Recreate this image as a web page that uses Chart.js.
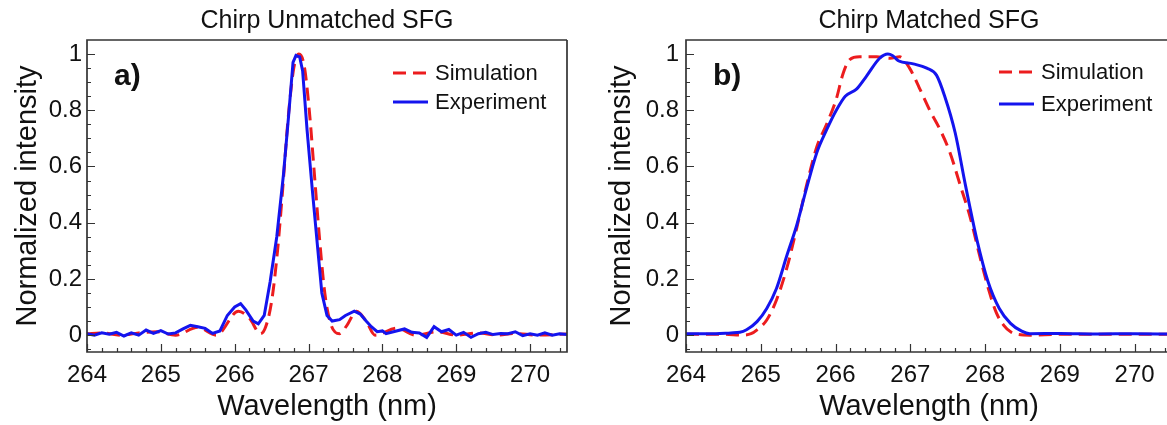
<!DOCTYPE html>
<html>
<head>
<meta charset="utf-8">
<script src="https://cdn.jsdelivr.net/npm/chart.js@4.4.1/dist/chart.umd.min.js"></script>
<style>
  html, body { margin: 0; padding: 0; background: #fff; overflow: hidden; }
  body { width: 1167px; height: 425px; position: relative; }
  canvas { position: absolute; top: 0; }
  #chartA { left: 0; }
  #chartB { left: 583px; }
</style>
</head>
<body>
<canvas id="chartA" width="583" height="425"></canvas>
<canvas id="chartB" width="600" height="425"></canvas>
<script>
const FONT = '"Liberation Sans", Arial, Helvetica, sans-serif';

// axis ticks (shared by both panels)
const xTickValues = [264, 265, 266, 267, 268, 269, 270];
const xTickLabels = ['264', '265', '266', '267', '268', '269', '270'];
const yTickValues = [0, 0.2, 0.4, 0.6, 0.8, 1];
const yTickLabels = ['0', '0.2', '0.4', '0.6', '0.8', '1'];

// a) chirp unmatched SFG
const unmatchedSimWl = [264.0, 264.2, 264.45, 264.7, 264.95, 265.2, 265.5, 265.75, 266.05, 266.2, 266.35, 266.42,
  266.5, 266.58, 266.65, 266.72, 266.8, 266.87, 266.94, 267.01, 267.08, 267.15, 267.22, 267.3, 267.42, 267.52,
  267.65, 267.78, 267.9, 268.2, 268.45, 268.75, 269.0, 269.3, 269.55, 269.8, 270.1, 270.5];
const unmatchedSimInt = [0.005, 0.008, 0.0, 0.008, 0.012, 0.0, 0.028, 0.0, 0.085, 0.06, 0.005, 0.03,
  0.12, 0.3, 0.52, 0.76, 0.95, 1.0, 0.96, 0.8, 0.57, 0.34, 0.15, 0.04, 0.005, 0.035,
  0.085, 0.05, 0.0, 0.025, 0.0, 0.012, 0.0, 0.008, 0.0, 0.006, 0.0, 0.004];

const unmatchedExpWl = [264.0, 264.1, 264.2, 264.3, 264.4, 264.5, 264.6, 264.7, 264.8, 264.9, 265.0, 265.1,
  265.2, 265.3, 265.4, 265.5, 265.6, 265.7, 265.8, 265.9, 266.0, 266.08, 266.15, 266.25, 266.32, 266.4,
  266.48, 266.57, 266.66, 266.73, 266.79, 266.83, 266.88, 266.92, 266.98, 267.05, 267.12, 267.18, 267.25,
  267.32, 267.42, 267.5, 267.62, 267.7, 267.78, 267.85, 267.93, 268.0, 268.05, 268.15, 268.3, 268.4,
  268.5, 268.6, 268.7, 268.8, 268.9, 269.0, 269.1, 269.2, 269.3, 269.4, 269.5, 269.6, 269.7, 269.8,
  269.9, 270.0, 270.1, 270.2, 270.3, 270.4, 270.5];
const unmatchedExpInt = [0.005, 0.0, 0.008, 0.003, 0.01, -0.003, 0.008, 0.0, 0.018, 0.006, 0.016, 0.004,
  0.008, 0.022, 0.035, 0.03, 0.024, 0.006, 0.015, 0.07, 0.1, 0.112, 0.09, 0.05, 0.04, 0.07,
  0.19, 0.35, 0.57, 0.78, 0.97, 0.995, 0.99, 0.94, 0.73, 0.52, 0.32, 0.15, 0.07,
  0.05, 0.055, 0.07, 0.085, 0.075, 0.05, 0.03, 0.012, 0.015, 0.005, 0.012, 0.022, 0.01,
  0.008, -0.008, 0.03, 0.012, 0.02, 0.0, 0.01, -0.008, 0.005, 0.01, 0.002, 0.006, 0.005, 0.012,
  -0.002, 0.005, 0.0, 0.008, 0.0, 0.005, 0.002];

// b) chirp matched SFG
const matchedSimWl = [264.0, 264.5, 264.76, 264.87, 264.95, 265.08, 265.21, 265.35, 265.48, 265.61, 265.75,
  265.88, 266.01, 266.1, 266.19, 266.32, 266.55, 266.73, 266.86, 266.99, 267.12, 267.26, 267.4, 267.53,
  267.66, 267.8, 267.93, 268.05, 268.15, 268.25, 268.35, 268.45, 268.6, 269.0, 270.5];
const matchedSimInt = [0.003, 0.003, 0.0, 0.005, 0.019, 0.054, 0.125, 0.24, 0.38, 0.53, 0.67,
  0.75, 0.84, 0.93, 0.98, 0.99, 0.99, 0.985, 0.99, 0.95, 0.88, 0.8, 0.73, 0.65,
  0.54, 0.42, 0.28, 0.16, 0.08, 0.035, 0.01, 0.002, 0.0, 0.003, 0.003];

const matchedExpWl = [264.0, 264.4, 264.6, 264.72, 264.81, 264.95, 265.08, 265.21, 265.35, 265.48, 265.61,
  265.75, 265.88, 266.01, 266.13, 266.28, 266.41, 266.59, 266.7, 266.76, 266.84, 267.04, 267.22, 267.35,
  267.46, 267.6, 267.74, 267.89, 268.04, 268.19, 268.34, 268.49, 268.6, 269.0, 269.5, 270.0, 270.5];
const matchedExpInt = [0.005, 0.005, 0.008, 0.01, 0.019, 0.048, 0.095, 0.166, 0.284, 0.39, 0.52,
  0.65, 0.73, 0.8, 0.85, 0.875, 0.92, 0.985, 1.0, 0.995, 0.976, 0.965, 0.95, 0.925,
  0.85, 0.72, 0.53, 0.34, 0.19, 0.095, 0.042, 0.014, 0.005, 0.006, 0.004, 0.005, 0.004];

const pts = (xs, ys) => xs.map((x, i) => ({x: x, y: ys[i]}));

// frame, inward ticks, panel letter and legend
const panelDecor = {
  id: 'panelDecor',
  afterDatasetsDraw(chart, args, opts) {
    const {ctx, chartArea: a, scales: {x, y}} = chart;
    ctx.save();
    ctx.strokeStyle = '#333';
    ctx.lineWidth = 1.2;
    ctx.beginPath();
    for (let k = Math.ceil(x.min * 5 - 1e-6); k <= x.max * 5 + 1e-6; k++) {
      const px = Math.round(x.getPixelForValue(k / 5)) + 0.5;
      const len = k % 5 === 0 ? 8 : 4;
      ctx.moveTo(px, a.bottom);
      ctx.lineTo(px, a.bottom - len);
    }
    for (let k = Math.ceil(y.min * 20 - 1e-6); k <= 20; k++) {
      const py = Math.round(y.getPixelForValue(k / 20)) + 0.5;
      const len = k % 4 === 0 ? 8 : 4;
      ctx.moveTo(a.left, py);
      ctx.lineTo(a.left + len, py);
    }
    ctx.stroke();

    // frame (right side of panel b lies outside the picture)
    ctx.lineWidth = 1.7;
    ctx.beginPath();
    ctx.moveTo(a.right, a.top);
    ctx.lineTo(a.left, a.top);
    ctx.lineTo(a.left, a.bottom);
    ctx.lineTo(a.right, a.bottom);
    if (opts.rightEdge) ctx.lineTo(a.right, a.top);
    ctx.stroke();

    ctx.fillStyle = '#111';
    ctx.font = 'bold 30px ' + FONT;
    ctx.textBaseline = 'alphabetic';
    ctx.fillText(opts.label, a.left + 27, 85);

    ctx.font = '22px ' + FONT;
    ctx.textBaseline = 'middle';
    chart.data.datasets.forEach((ds, i) => {
      const ly = opts.rows[i];
      const lx = a.left + opts.legendX;
      ctx.strokeStyle = ds.borderColor;
      ctx.lineWidth = ds.borderWidth;
      ctx.setLineDash(ds.borderDash || []);
      ctx.beginPath();
      ctx.moveTo(lx, ly);
      ctx.lineTo(lx + 35, ly);
      ctx.stroke();
      ctx.setLineDash([]);
      ctx.fillText(ds.label, lx + 42, ly + 1);
    });
    ctx.restore();
  }
};

function makePanel(id, p) {
  return new Chart(document.getElementById(id), {
    type: 'line',
    data: {
      datasets: [{
        label: 'Simulation',
        data: pts(p.simWl, p.simInt),
        borderColor: 'rgb(236, 28, 30)',
        borderWidth: 3,
        borderDash: [13, 7],
        pointRadius: 0,
        cubicInterpolationMode: 'monotone',
        order: 1
      }, {
        label: 'Experiment',
        data: pts(p.expWl, p.expInt),
        borderColor: 'rgb(20, 20, 238)',
        borderWidth: 3,
        pointRadius: 0,
        tension: p.expTension,
        cubicInterpolationMode: p.expMode,
        order: 0
      }]
    },
    options: {
      responsive: false,
      animation: false,
      devicePixelRatio: 1,
      layout: { padding: { left: 0, right: p.padRight, top: 0, bottom: 0 } },
      plugins: {
        legend: { display: false },
        tooltip: { enabled: false },
        title: {
          display: true,
          text: p.title,
          fullSize: false,
          color: '#111',
          font: { family: FONT, size: 25, weight: 'normal', lineHeight: 1.2 },
          padding: { top: 6, bottom: 4 }
        },
        panelDecor: { label: p.label, legendX: p.legendX, rows: p.rows, rightEdge: p.rightEdge }
      },
      scales: {
        x: {
          type: 'linear',
          min: 264,
          max: 270.5,
          afterBuildTicks: s => { s.ticks = xTickValues.map(v => ({value: v})); },
          afterFit: s => { s.height = 73; },
          grid: { display: false, drawTicks: false },
          border: { display: false },
          ticks: {
            callback: (v, i) => xTickLabels[i],
            color: '#111',
            font: { family: FONT, size: 24 },
            padding: 9,
            maxRotation: 0,
            autoSkip: false
          },
          title: {
            display: true,
            text: 'Wavelength (nm)',
            color: '#111',
            font: { family: FONT, size: 29, lineHeight: 1 },
            padding: { top: 0, bottom: 3.5 }
          }
        },
        y: {
          type: 'linear',
          min: -0.06,
          max: 1.05,
          afterBuildTicks: s => { s.ticks = yTickValues.map(v => ({value: v})); },
          afterFit: s => { s.width = p.yWidth; },
          grid: { display: false, drawTicks: false },
          border: { display: false },
          ticks: {
            callback: (v, i) => yTickLabels[i],
            color: '#111',
            font: { family: FONT, size: 24 },
            padding: p.yTickPad
          },
          title: {
            display: true,
            text: 'Normalized intensity',
            color: '#111',
            font: { family: FONT, size: 29, lineHeight: 1 },
            padding: { top: p.yTitlePad, bottom: 0 }
          }
        }
      }
    },
    plugins: [panelDecor]
  });
}

makePanel('chartA', {
  title: 'Chirp Unmatched SFG', label: 'a)',
  simWl: unmatchedSimWl, simInt: unmatchedSimInt,
  expWl: unmatchedExpWl, expInt: unmatchedExpInt,
  expTension: 0, expMode: 'default',
  padRight: 16, yWidth: 87, yTickPad: 5, yTitlePad: 13.5,
  legendX: 306, rows: [73, 102], rightEdge: true
});

makePanel('chartB', {
  title: 'Chirp Matched SFG', label: 'b)',
  simWl: matchedSimWl, simInt: matchedSimInt,
  expWl: matchedExpWl, expInt: matchedExpInt,
  expTension: 0.4, expMode: 'monotone',
  padRight: 11, yWidth: 103, yTickPad: 7, yTitlePad: 24.5,
  legendX: 313, rows: [72, 104], rightEdge: false
});
</script>
</body>
</html>
